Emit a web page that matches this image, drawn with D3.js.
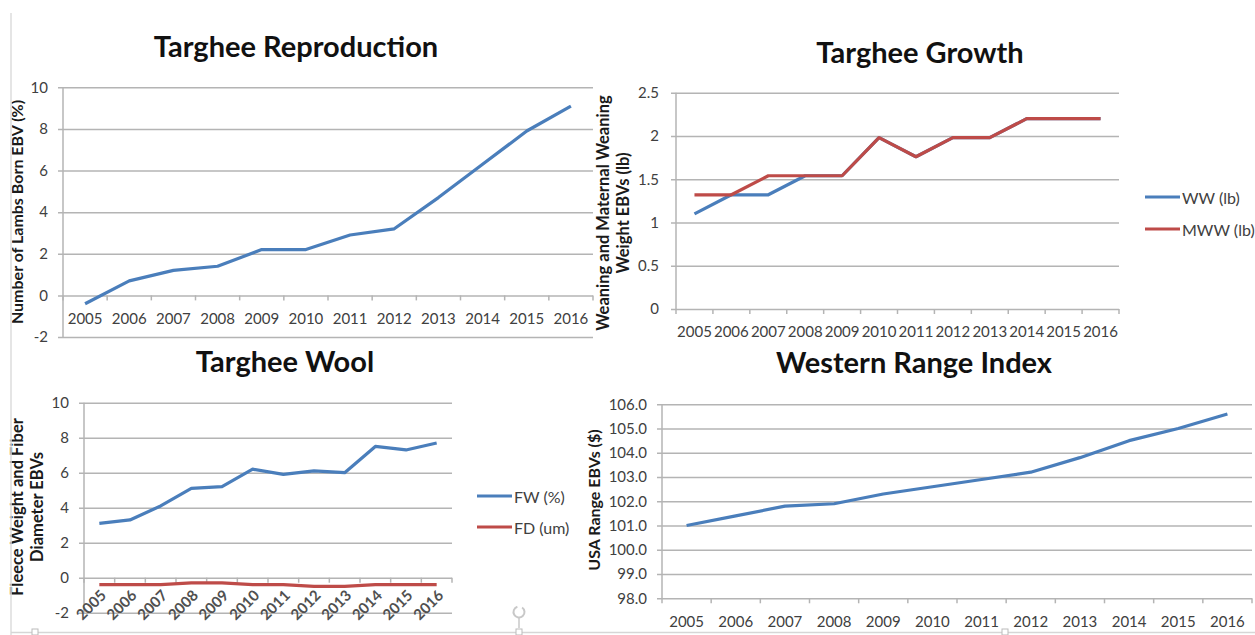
<!DOCTYPE html>
<html>
<head>
<meta charset="utf-8">
<script src="https://cdn.jsdelivr.net/npm/d3@7"></script>
<style>
body { margin: 0; background: #fff; }
svg { display: block; }
text { font-family: Lato, "Open Sans", sans-serif; }
</style>
</head>
<body>
<svg id="chart" width="1255" height="635"></svg>
<script>
// data
var years = ["2005", "2006", "2007", "2008", "2009", "2010", "2011", "2012", "2013", "2014", "2015", "2016"]

var lambsBorn = [-0.4, 0.7, 1.2, 1.4, 2.2, 2.2, 2.9, 3.2, 4.7, 6.3, 7.9, 9.1]

var weaningWW = [1.1, 1.32, 1.32, 1.54, 1.54, 1.98, 1.76, 1.98, 1.98, 2.2, 2.2, 2.2]
var maternalMWW = [1.32, 1.32, 1.54, 1.54, 1.54, 1.98, 1.76, 1.98, 1.98, 2.2, 2.2, 2.2]

var fleeceFW = [3.1, 3.3, 4.1, 5.1, 5.2, 6.2, 5.9, 6.1, 6.0, 7.5, 7.3, 7.7]
var fiberFD = [-0.4, -0.4, -0.4, -0.3, -0.3, -0.4, -0.4, -0.5, -0.5, -0.4, -0.4, -0.4]

var rangeIndex = [101.0, 101.4, 101.8, 101.9, 102.3, 102.6, 102.9, 103.2, 103.8, 104.5, 105.0, 105.6]

var reproTicks = [-2, 0, 2, 4, 6, 8, 10]
var growthTicks = [0, 0.5, 1, 1.5, 2, 2.5]
var woolTicks = [-2, 0, 2, 4, 6, 8, 10]
var rangeTicks = [98, 99, 100, 101, 102, 103, 104, 105, 106]

var BLUE = "#4a7ebb"
var RED = "#be4b48"
var GRID = "#b4b4b4"
var LABEL = "#404040"

var svg = d3.select("#chart")

// plain hyphen minus like the original, not the unicode one d3 uses
function plain(d){ return String(d) }

function drawPanel(p)
{
    var g = svg.append("g")
    var x = d3.scaleBand().domain(years).range([p.x0, p.x1])
    var y = d3.scaleLinear().domain(p.yDomain).range([p.yBottom, p.yTop])

    // gridlines (with the little outside tick)
    g.append("g")
        .attr("transform", "translate(" + p.x0 + ",0)")
        .call(d3.axisLeft(y).tickValues(p.yTicks).tickSize(-(p.x1 - p.x0)).tickFormat(""))
        .call(function(s){ s.select(".domain").remove() })
        .selectAll("line")
            .attr("x1", -5)
            .attr("stroke", GRID)
            .attr("stroke-width", 1.5)

    // y tick labels
    g.append("g")
        .attr("transform", "translate(" + p.x0 + ",0)")
        .call(d3.axisLeft(y).tickValues(p.yTicks).tickSize(0).tickPadding(p.yPad).tickFormat(p.yFormat))
        .call(function(s){ s.select(".domain").remove() })
        .selectAll("text")
            .attr("fill", LABEL)
            .style("font-size", "15px")

    // y axis line
    g.append("line")
        .attr("x1", p.x0).attr("x2", p.x0)
        .attr("y1", p.yTop).attr("y2", p.yBottom)
        .attr("stroke", GRID).attr("stroke-width", 1.5)

    // category ticks between bands
    var ay = y(p.axisAt)
    var edges = years.map(function(d){ return x(d) }).concat([p.x1])
    g.selectAll(".xtick").data(edges).join("line")
        .attr("x1", function(d){ return d }).attr("x2", function(d){ return d })
        .attr("y1", ay).attr("y2", ay + 5)
        .attr("stroke", GRID).attr("stroke-width", 1.5)

    // category labels
    var xa = g.append("g")
        .attr("transform", "translate(0," + ay + ")")
        .call(d3.axisBottom(x).tickSize(0).tickPadding(p.xPad))
        .call(function(s){ s.select(".domain").remove() })
    xa.selectAll("text")
        .attr("fill", LABEL)
        .style("font-size", p.xFont || "15px")
    if(p.rotate)
    {
        xa.selectAll("text")
            .attr("x", 0).attr("y", 0).attr("dy", "0.35em")
            .attr("text-anchor", "end")
            .attr("transform", "translate(4,15) rotate(-45)")
            .style("font-weight", "bold")
            .attr("fill", "#505050")
    }

    var line = d3.line()
        .x(function(d, i){ return x(years[i]) + x.bandwidth() / 2 })
        .y(function(d){ return y(d) })

    p.series.forEach(function(s)
    {
        g.append("path")
            .datum(s.values)
            .attr("d", line)
            .attr("fill", "none")
            .attr("stroke", s.color)
            .attr("stroke-width", 3.2)
            .attr("stroke-linejoin", "round")
    })

    // title
    g.append("text")
        .attr("x", p.titleX).attr("y", p.titleY)
        .attr("text-anchor", "middle")
        .style("font-size", "29px").style("font-weight", "bold")
        .attr("fill", "#111")
        .text(p.title)

    // y axis title
    p.yTitle.forEach(function(t, i)
    {
        g.append("text")
            .attr("transform", "translate(" + p.yTitleX[i] + "," + p.yTitleY + ") rotate(-90)")
            .attr("text-anchor", "middle")
            .attr("dominant-baseline", "central")
            .style("font-size", p.yTitleFont).style("font-weight", "bold")
            .attr("fill", "#1a1a1a")
            .text(t)
    })

    // legend
    if(p.legend)
    {
        p.series.forEach(function(s, i)
        {
            var ly = p.legend.y + i * p.legend.step
            g.append("line")
                .attr("x1", p.legend.x).attr("x2", p.legend.x + 35)
                .attr("y1", ly).attr("y2", ly)
                .attr("stroke", s.color).attr("stroke-width", 3.2)
            g.append("text")
                .attr("x", p.legend.x + 37).attr("y", ly)
                .attr("dominant-baseline", "central")
                .style("font-size", "16px")
                .attr("fill", LABEL)
                .text(s.name)
        })
    }
}

drawPanel({
    x0: 63, x1: 593, yTop: 87.3, yBottom: 337, yDomain: [-2, 10], yTicks: reproTicks,
    yFormat: plain, yPad: 15, axisAt: 0, xPad: 17.5,
    series: [{name: "LB", values: lambsBorn, color: BLUE}],
    title: "Targhee Reproduction", titleX: 296, titleY: 57,
    yTitle: ["Number of Lambs Born EBV (%)"], yTitleX: [16], yTitleY: 212, yTitleFont: "16px"
})

drawPanel({
    x0: 676, x1: 1119, yTop: 92.7, yBottom: 309, yDomain: [0, 2.5], yTicks: growthTicks,
    yFormat: plain, yPad: 17, axisAt: 0, xPad: 17.5,
    series: [{name: "WW (lb)", values: weaningWW, color: BLUE},
             {name: "MWW (lb)", values: maternalMWW, color: RED}],
    title: "Targhee Growth", titleX: 920, titleY: 63,
    yTitle: ["Weaning and Maternal Weaning", "Weight EBVs (lb)"], yTitleX: [603, 623], yTitleY: 213, yTitleFont: "16.5px",
    legend: {x: 1145, y: 197, step: 32}
})

drawPanel({
    x0: 84, x1: 452, yTop: 402.7, yBottom: 612.7, yDomain: [-2, 10], yTicks: woolTicks,
    yFormat: plain, yPad: 15, axisAt: 0, xPad: 10, rotate: true, xFont: "15px",
    series: [{name: "FW (%)", values: fleeceFW, color: BLUE},
             {name: "FD (um)", values: fiberFD, color: RED}],
    title: "Targhee Wool", titleX: 285, titleY: 372,
    yTitle: ["Fleece Weight and Fiber", "Diameter EBVs"], yTitleX: [17, 37], yTitleY: 507, yTitleFont: "16.5px",
    legend: {x: 477, y: 496, step: 31}
})

drawPanel({
    x0: 662, x1: 1252, yTop: 404.3, yBottom: 598.3, yDomain: [98, 106], yTicks: rangeTicks,
    yFormat: d3.format(".1f"), yPad: 15, axisAt: 98, xPad: 18,
    series: [{name: "Index", values: rangeIndex, color: BLUE}],
    title: "Western Range Index", titleX: 914, titleY: 373,
    yTitle: ["USA Range EBVs ($)"], yTitleX: [593], yTitleY: 500, yTitleFont: "16px"
})

// slide frame and selection handles
svg.append("line").attr("x1", 11).attr("x2", 11).attr("y1", 13).attr("y2", 635)
    .attr("stroke", "#dcdcdc").attr("stroke-width", 1.5)
svg.append("line").attr("x1", 11).attr("x2", 1255).attr("y1", 632.5).attr("y2", 632.5)
    .attr("stroke", "#d6d6d6").attr("stroke-width", 1.5)
svg.append("path")
    .attr("d", d3.arc()({innerRadius: 5.5, outerRadius: 5.5, startAngle: 0.6, endAngle: 2 * Math.PI - 0.3}))
    .attr("transform", "translate(519,612)")
    .attr("fill", "none").attr("stroke", "#c8c8c8").attr("stroke-width", 2)
svg.append("line").attr("x1", 519).attr("x2", 519).attr("y1", 618).attr("y2", 628)
    .attr("stroke", "#c8c8c8").attr("stroke-width", 1.5)
svg.selectAll(".handle").data([35, 519, 1005]).join("rect")
    .attr("x", function(d){ return d - 3 }).attr("y", 629)
    .attr("width", 6).attr("height", 6)
    .attr("fill", "#fff").attr("stroke", "#bbb")
</script>
</body>
</html>
